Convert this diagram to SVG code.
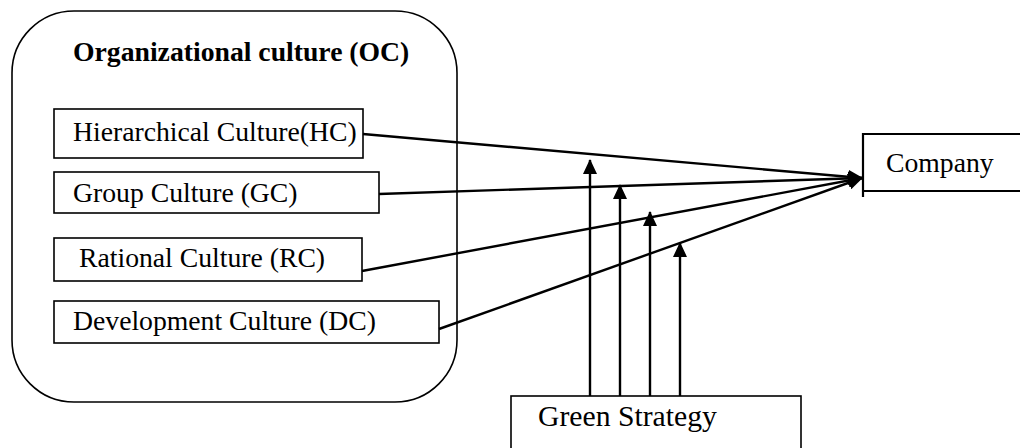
<svg xmlns="http://www.w3.org/2000/svg" width="1020" height="448" viewBox="0 0 1020 448">
  <style>
    .box { fill: #fff; stroke: #000; stroke-width: 1.6; }
    .lbl { font-family: "Liberation Serif", "Times New Roman", serif; font-size: 27.7px; fill: #000; }
    .ttl { font-weight: bold; }
    .edge { fill: none; stroke: #000; stroke-width: 2.4; marker-end: url(#head); }
  </style>
  <defs>
    <marker id="head" viewBox="0 0 15 14" refX="14" refY="7" markerUnits="userSpaceOnUse" markerWidth="15" markerHeight="14" orient="auto">
      <path d="M0,0 L15,7 L0,14 Z" fill="#000"/>
    </marker>
  </defs>

  <!-- outer container -->
  <g id="oc">
    <rect class="box" x="12" y="11" width="445" height="391" rx="62" ry="62"/>
    <text class="lbl ttl" x="73" y="61">Organizational culture (OC)</text>
  </g>

  <g id="hc">
    <rect class="box" x="54" y="109" width="309" height="49"/>
    <text class="lbl" x="73" y="141">Hierarchical Culture(HC)</text>
  </g>
  <g id="gc">
    <rect class="box" x="54" y="172" width="325" height="41"/>
    <text class="lbl" x="73" y="202">Group Culture (GC)</text>
  </g>
  <g id="rc">
    <rect class="box" x="54" y="238" width="308" height="43"/>
    <text class="lbl" x="79" y="267">Rational Culture (RC)</text>
  </g>
  <g id="dc">
    <rect class="box" x="54" y="301" width="385" height="42"/>
    <text class="lbl" x="73" y="330">Development Culture (DC)</text>
  </g>

  <g id="company">
    <path d="M863,197 L863,134 L1021,134 M863,191 L1021,191" fill="none" stroke="#000" stroke-width="2.2"/>
    <text class="lbl" x="886" y="172">Company</text>
  </g>

  <g id="green">
    <rect class="box" x="511" y="396" width="290" height="60"/>
    <text class="lbl" x="538" y="426" style="font-size:29.7px">Green Strategy</text>
  </g>

  <g id="connectors">
    <line class="edge" x1="363" y1="134" x2="862" y2="178"/>
    <line class="edge" x1="379" y1="194" x2="862" y2="178"/>
    <line class="edge" x1="362" y1="271" x2="862" y2="178"/>
    <line class="edge" x1="439" y1="329" x2="862" y2="178"/>
    <line class="edge" x1="590" y1="396" x2="590" y2="160"/>
    <line class="edge" x1="620" y1="396" x2="620" y2="185"/>
    <line class="edge" x1="650" y1="396" x2="650" y2="212"/>
    <line class="edge" x1="680" y1="396" x2="680" y2="243"/>
  </g>
</svg>
